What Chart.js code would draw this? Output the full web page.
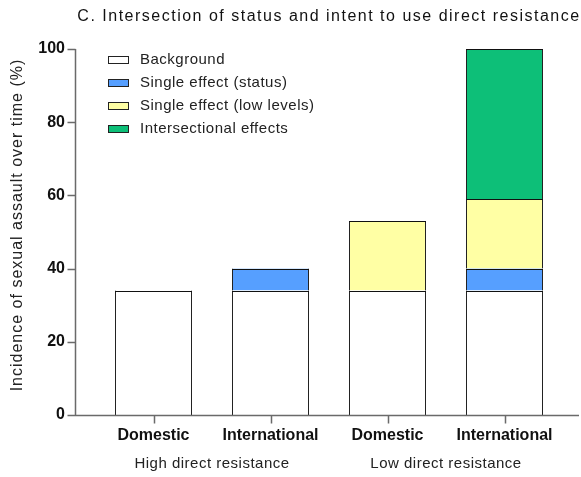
<!DOCTYPE html>
<html>
<head>
<meta charset="utf-8">
<script src="https://cdn.jsdelivr.net/npm/chart.js@4/dist/chart.umd.min.js"></script>
<style>
  html, body { margin: 0; padding: 0; background: #ffffff; }
  #wrap { width: 581px; height: 477px; }
</style>
</head>
<body>
<div id="wrap"><canvas id="chart" width="581" height="477"></canvas></div>
<script>
// Categories and group labels
const categories = ['Domestic', 'International', 'Domestic', 'International'];
const groupLabels = ['High direct resistance', 'Low direct resistance'];

// Stacked components of incidence (%)
const background = [34, 34, 34, 34];
const statusEffect = [0, 6, 0, 6];
const lowLevelsEffect = [0, 0, 19, 19];
const intersectionalEffect = [0, 0, 0, 41];

const seriesNames = ['Background', 'Single effect (status)', 'Single effect (low levels)', 'Intersectional effects'];
const seriesColors = ['#ffffff', '#569fff', '#ffffa4', '#0dbf78'];
const yTickValues = [0, 20, 40, 60, 80, 100];

const titleText = 'C. Intersection of status and intent to use direct resistance';
const yTitleText = 'Incidence of sexual assault over time (%)';

const AXIS_COLOR = '#6a6a6a';
const BAR_EDGE = '#222222';
const FONT = '"Liberation Sans", Arial, sans-serif';

function makeDataset(i, values) {
  return {
    label: seriesNames[i],
    data: values,
    backgroundColor: seriesColors[i],
    borderColor: BAR_EDGE,
    // side edges come from the library; each segment's top edge is stroked crisply below
    borderWidth: ctx => (ctx.raw ? { left: 1, right: 1, top: 0, bottom: 0 } : 0),
    stack: 'total',
    barPercentage: 77 / 117,
    categoryPercentage: 1.0
  };
}

// Axes, segment tops, legend and annotation text drawn on top of the bars
const decorations = {
  id: 'decorations',
  afterDatasetsDraw(chart) {
    const { ctx, scales: { x, y } } = chart;
    const y0 = Math.round(y.getPixelForValue(0)) + 0.5;
    const yTop = Math.round(y.getPixelForValue(100));
    const axisX = 75.5;

    ctx.save();
    // top edge of each stacked segment
    ctx.strokeStyle = '#111111';
    ctx.lineWidth = 1;
    ctx.beginPath();
    chart.data.datasets.forEach((ds, di) => {
      chart.getDatasetMeta(di).data.forEach((bar, i) => {
        if (!ds.data[i]) return;
        const py = Math.round(bar.y) + 0.5;
        ctx.moveTo(bar.x - bar.width / 2, py);
        ctx.lineTo(bar.x + bar.width / 2, py);
      });
    });
    ctx.stroke();

    ctx.strokeStyle = AXIS_COLOR;
    ctx.lineWidth = 1.5;
    ctx.beginPath();
    // y axis line and ticks
    ctx.moveTo(axisX, y0);
    ctx.lineTo(axisX, yTop);
    yTickValues.forEach(v => {
      const py = Math.round(y.getPixelForValue(v)) + 0.5;
      ctx.moveTo(axisX, py);
      ctx.lineTo(axisX - 8, py);
    });
    // x axis line and ticks
    ctx.moveTo(axisX - 0.75, y0);
    ctx.lineTo(579, y0);
    categories.forEach((c, i) => {
      const px = Math.round(x.getPixelForValue(i)) + 0.5;
      ctx.moveTo(px, y0);
      ctx.lineTo(px, y0 + 8);
    });
    ctx.stroke();
    ctx.restore();
  },
  afterDraw(chart) {
    const { ctx, scales: { x } } = chart;
    ctx.save();

    // Title
    ctx.letterSpacing = '1.5px';
    ctx.fillStyle = '#111111';
    ctx.font = '16px ' + FONT;
    ctx.textAlign = 'center';
    ctx.textBaseline = 'middle';
    ctx.fillText(titleText, 329, 17);

    // y axis title
    ctx.letterSpacing = '1px';
    ctx.save();
    ctx.translate(18, 225);
    ctx.rotate(-Math.PI / 2);
    ctx.fillStyle = '#222222';
    ctx.font = '16px ' + FONT;
    ctx.fillText(yTitleText, 0, 0);
    ctx.restore();

    // Group labels under each pair of bars
    ctx.fillStyle = '#222222';
    ctx.font = '15px ' + FONT;
    ctx.letterSpacing = '0.5px';
    groupLabels.forEach((g, gi) => {
      const cx = (x.getPixelForValue(gi * 2) + x.getPixelForValue(gi * 2 + 1)) / 2;
      ctx.fillText(g, cx, 464);
    });

    // Legend
    ctx.textAlign = 'left';
    const rows = [60, 83, 106, 129];
    seriesNames.forEach((name, i) => {
      const ry = rows[i];
      ctx.fillStyle = seriesColors[i];
      ctx.fillRect(108.5, ry - 3.5, 20, 7);
      ctx.strokeStyle = '#222222';
      ctx.lineWidth = 1;
      ctx.strokeRect(108.5, ry - 3.5, 20, 7);
      ctx.fillStyle = '#222222';
      ctx.fillText(name, 140, ry);
    });
    ctx.restore();
  }
};

new Chart(document.getElementById('chart'), {
  type: 'bar',
  data: {
    labels: categories,
    datasets: [
      makeDataset(0, background),
      makeDataset(1, statusEffect),
      makeDataset(2, lowLevelsEffect),
      makeDataset(3, intersectionalEffect)
    ]
  },
  options: {
    responsive: false,
    animation: false,
    devicePixelRatio: 1,
    layout: { padding: { top: 49, right: 18, left: 0, bottom: 0 } },
    plugins: {
      legend: { display: false },
      tooltip: { enabled: false },
      title: { display: false }
    },
    scales: {
      x: {
        type: 'category',
        offset: true,
        stacked: true,
        grid: { display: false },
        border: { display: false },
        ticks: {
          color: '#111111',
          font: { family: FONT, size: 16, weight: 'bold' },
          padding: 3,
          maxRotation: 0,
          autoSkip: false
        },
        afterFit: s => { s.height = 62; }
      },
      y: {
        stacked: true,
        min: 0,
        max: 100,
        grid: { display: false },
        border: { display: false },
        ticks: {
          stepSize: 20,
          color: '#111111',
          font: { family: FONT, size: 16, weight: 'bold' },
          padding: 22
        },
        afterFit: s => { s.width = 95; }
      }
    }
  },
  plugins: [decorations]
});
</script>
</body>
</html>
